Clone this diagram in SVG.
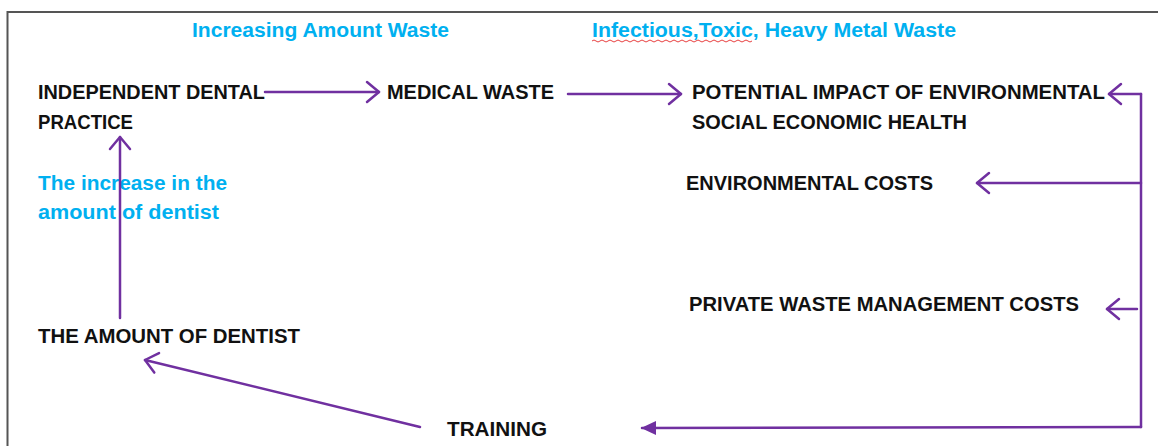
<svg xmlns="http://www.w3.org/2000/svg" width="1158" height="446" viewBox="0 0 1158 446">
<style>
.t{font-family:"Liberation Sans",Arial,sans-serif;font-weight:bold;font-size:19.5px;fill:#111}
.b{font-family:"Liberation Sans",Arial,sans-serif;font-weight:bold;font-size:19.5px;fill:#00B0F0}
.c{stroke:#7030A0;stroke-width:2.5;fill:none;stroke-linecap:round;stroke-linejoin:round}
</style>
<defs>
<marker id="open" viewBox="0 0 16 24" refX="14" refY="12" markerWidth="16" markerHeight="24" markerUnits="userSpaceOnUse" orient="auto">
<path d="M2,2 L14,12 L2,22" fill="none" stroke="#7030A0" stroke-width="2.5" stroke-linecap="round" stroke-linejoin="round"/>
</marker>
<marker id="solid" viewBox="0 0 16 16" refX="14" refY="8" markerWidth="16" markerHeight="16" markerUnits="userSpaceOnUse" orient="auto">
<path d="M15,8 L0,1 L0,15 Z" fill="#7030A0"/>
</marker>
</defs>
<rect width="1158" height="446" fill="#fff"/>
<path d="M7.5,446 V12 H1158" fill="none" stroke="#555" stroke-width="2"/>

<g id="label-increasing"><text class="b" x="192" y="37" textLength="257" lengthAdjust="spacingAndGlyphs">Increasing Amount Waste</text></g>
<g id="label-infectious"><text class="b" x="592" y="37" textLength="364" lengthAdjust="spacingAndGlyphs">Infectious,Toxic, Heavy Metal Waste</text>
<path d="M592,41 q2,-2 4,0 t4,0 t4,0 t4,0 t4,0 t4,0 t4,0 t4,0 t4,0 t4,0 t4,0 t4,0 t4,0 t4,0 t4,0 t4,0 t4,0 t4,0 t4,0 t4,0 t4,0 t4,0 t4,0 t4,0 t4,0 t4,0 t4,0 t4,0 t4,0 t4,0 t4,0 t4,0 t4,0 t4,0 t4,0 t4,0 t4,0 t4,0 t4,0 t4,0" fill="none" stroke="#E84040" stroke-width="1"/></g>

<g id="node-practice"><text class="t" x="38" y="99" textLength="227" lengthAdjust="spacingAndGlyphs">INDEPENDENT DENTAL</text><text class="t" x="38" y="129" textLength="95" lengthAdjust="spacingAndGlyphs">PRACTICE</text></g>
<g id="node-medical"><text class="t" x="387" y="99" textLength="167" lengthAdjust="spacingAndGlyphs">MEDICAL WASTE</text></g>
<g id="node-impact"><text class="t" x="692" y="99" textLength="413" lengthAdjust="spacingAndGlyphs">POTENTIAL IMPACT OF ENVIRONMENTAL</text><text class="t" x="692" y="129" textLength="275" lengthAdjust="spacingAndGlyphs">SOCIAL ECONOMIC HEALTH</text></g>
<g id="node-envcosts"><text class="t" x="686" y="190" textLength="247" lengthAdjust="spacingAndGlyphs">ENVIRONMENTAL COSTS</text></g>
<g id="node-private"><text class="t" x="689" y="311" textLength="390" lengthAdjust="spacingAndGlyphs">PRIVATE WASTE MANAGEMENT COSTS</text></g>
<g id="label-increase"><text class="b" x="38" y="190" textLength="189" lengthAdjust="spacingAndGlyphs">The increase in the</text><text class="b" x="38" y="219" textLength="181" lengthAdjust="spacingAndGlyphs">amount of dentist</text></g>
<g id="node-amount"><text class="t" x="38" y="343" textLength="262" lengthAdjust="spacingAndGlyphs">THE AMOUNT OF DENTIST</text></g>
<g id="node-training"><text class="t" x="447" y="436" textLength="100" lengthAdjust="spacingAndGlyphs">TRAINING</text></g>

<g id="connectors">
<path class="c" d="M265,92 H379" marker-end="url(#open)"/>
<path class="c" d="M568,94 H681" marker-end="url(#open)"/>
<path class="c" d="M1141,94 H1109" marker-end="url(#open)"/>
<path class="c" d="M1141,94 V427"/>
<path class="c" d="M1141,183 H977" marker-end="url(#open)"/>
<path class="c" d="M1137,309 H1107" marker-end="url(#open)"/>
<path class="c" d="M1141,427 L642,428" marker-end="url(#solid)"/>
<path class="c" d="M120,318 V137" marker-end="url(#open)"/>
<path class="c" d="M420,427 L145,360" marker-end="url(#open)"/>
</g>
</svg>
